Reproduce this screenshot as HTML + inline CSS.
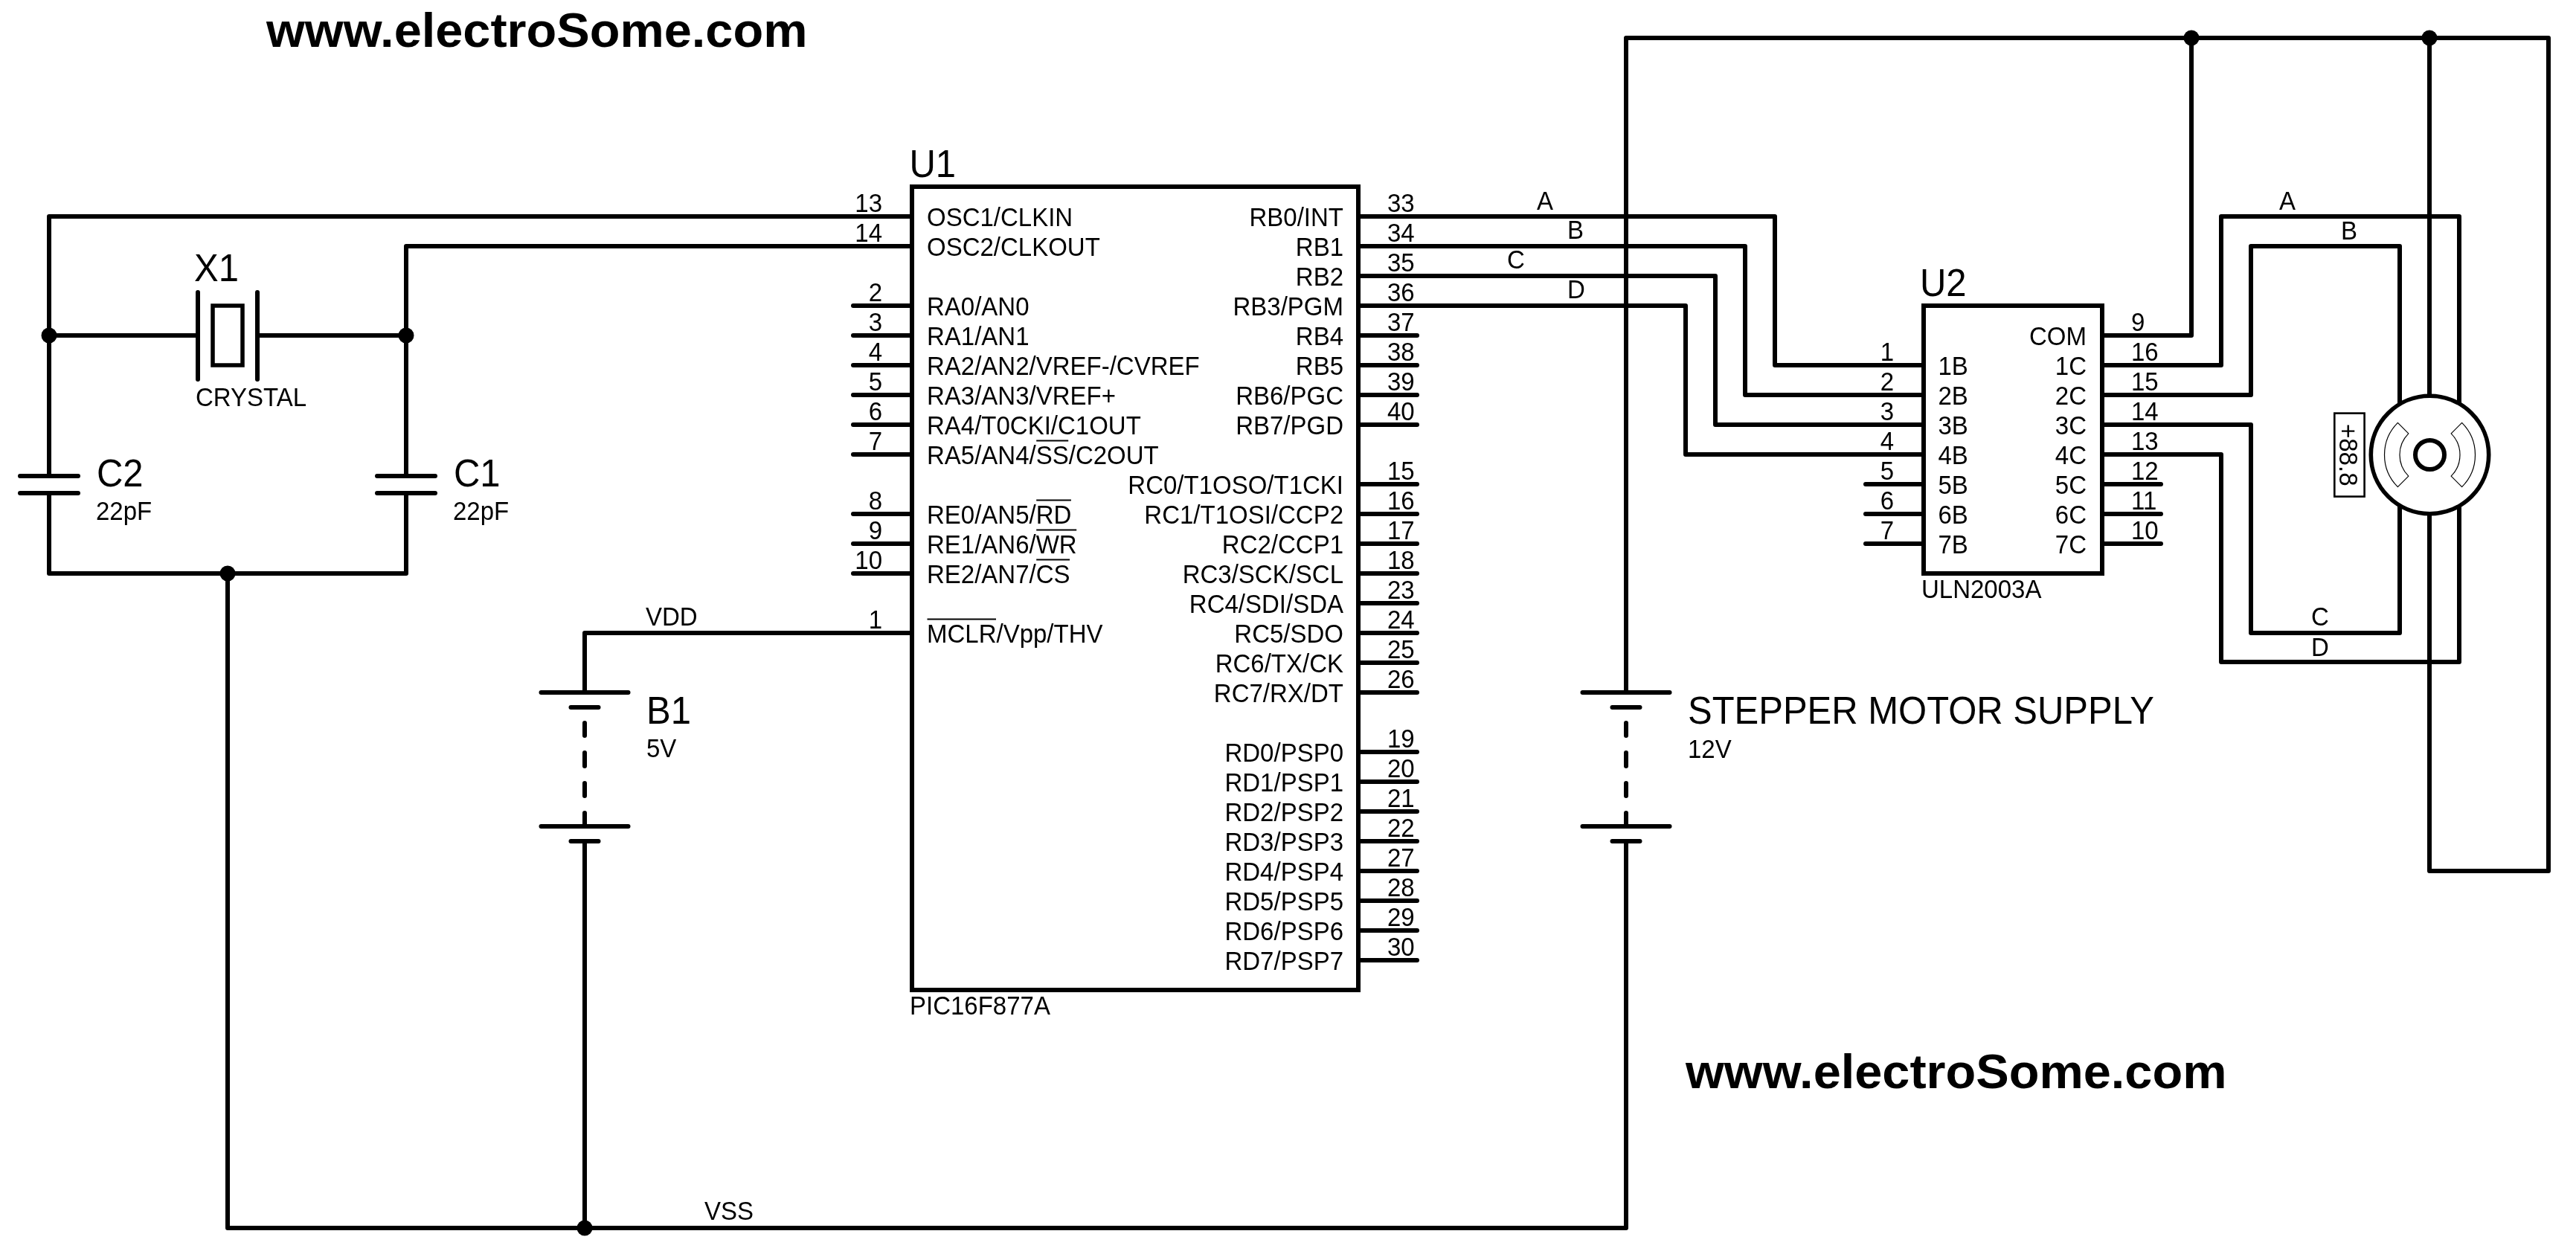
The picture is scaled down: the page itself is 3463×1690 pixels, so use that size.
<!DOCTYPE html>
<html><head><meta charset="utf-8"><style>
html,body{margin:0;padding:0;background:#fff;width:3463px;height:1690px;overflow:hidden}
svg{display:block;will-change:transform}
text{font-family:"Liberation Sans",sans-serif;fill:#000;stroke:none}
</style></head><body>
<svg width="3463" height="1690" viewBox="0 0 3463 1690">
<rect width="3463" height="1690" fill="#fff"/>
<g stroke="#000" stroke-width="6" fill="none" stroke-linejoin="round">
<text transform="translate(358 62.7) scale(1.042 1)" font-size="64" text-anchor="start" font-weight="bold">www.electroSome.com</text>
<text transform="translate(2266 1462.5) scale(1.042 1)" font-size="64" text-anchor="start" font-weight="bold">www.electroSome.com</text>
<rect x="1226" y="251" width="600" height="1080" fill="none" stroke-linejoin="miter"/>
<text transform="translate(1222.5 238) scale(1 1.05)" font-size="49" text-anchor="start" font-weight="normal">U1</text>
<text transform="translate(1223 1364) scale(1 1.05)" font-size="33" text-anchor="start" font-weight="normal">PIC16F877A</text>
<path d="M1144 291 L1226 291" stroke-linecap="round"/>
<text transform="translate(1186 285) scale(1 1.05)" font-size="33" text-anchor="end" font-weight="normal">13</text>
<text transform="translate(1246 304) scale(1 1.05)" font-size="33" text-anchor="start" font-weight="normal">OSC1/CLKIN</text>
<path d="M1144 331 L1226 331" stroke-linecap="round"/>
<text transform="translate(1186 325) scale(1 1.05)" font-size="33" text-anchor="end" font-weight="normal">14</text>
<text transform="translate(1246 344) scale(1 1.05)" font-size="33" text-anchor="start" font-weight="normal">OSC2/CLKOUT</text>
<path d="M1147 411 L1226 411" stroke-linecap="round"/>
<text transform="translate(1186 405) scale(1 1.05)" font-size="33" text-anchor="end" font-weight="normal">2</text>
<text transform="translate(1246 424) scale(1 1.05)" font-size="33" text-anchor="start" font-weight="normal">RA0/AN0</text>
<path d="M1147 451 L1226 451" stroke-linecap="round"/>
<text transform="translate(1186 445) scale(1 1.05)" font-size="33" text-anchor="end" font-weight="normal">3</text>
<text transform="translate(1246 464) scale(1 1.05)" font-size="33" text-anchor="start" font-weight="normal">RA1/AN1</text>
<path d="M1147 491 L1226 491" stroke-linecap="round"/>
<text transform="translate(1186 485) scale(1 1.05)" font-size="33" text-anchor="end" font-weight="normal">4</text>
<text transform="translate(1246 504) scale(1 1.05)" font-size="33" text-anchor="start" font-weight="normal">RA2/AN2/VREF-/CVREF</text>
<path d="M1147 531 L1226 531" stroke-linecap="round"/>
<text transform="translate(1186 525) scale(1 1.05)" font-size="33" text-anchor="end" font-weight="normal">5</text>
<text transform="translate(1246 544) scale(1 1.05)" font-size="33" text-anchor="start" font-weight="normal">RA3/AN3/VREF+</text>
<path d="M1147 571 L1226 571" stroke-linecap="round"/>
<text transform="translate(1186 565) scale(1 1.05)" font-size="33" text-anchor="end" font-weight="normal">6</text>
<text transform="translate(1246 584) scale(1 1.05)" font-size="33" text-anchor="start" font-weight="normal">RA4/T0CKI/C1OUT</text>
<path d="M1147 611 L1226 611" stroke-linecap="round"/>
<text transform="translate(1186 605) scale(1 1.05)" font-size="33" text-anchor="end" font-weight="normal">7</text>
<text transform="translate(1246 624) scale(1 1.05)" font-size="33" text-anchor="start" font-weight="normal">RA5/AN4/SS/C2OUT</text>
<path d="M1147 691 L1226 691" stroke-linecap="round"/>
<text transform="translate(1186 685) scale(1 1.05)" font-size="33" text-anchor="end" font-weight="normal">8</text>
<text transform="translate(1246 704) scale(1 1.05)" font-size="33" text-anchor="start" font-weight="normal">RE0/AN5/RD</text>
<path d="M1147 731 L1226 731" stroke-linecap="round"/>
<text transform="translate(1186 725) scale(1 1.05)" font-size="33" text-anchor="end" font-weight="normal">9</text>
<text transform="translate(1246 744) scale(1 1.05)" font-size="33" text-anchor="start" font-weight="normal">RE1/AN6/WR</text>
<path d="M1147 771 L1226 771" stroke-linecap="round"/>
<text transform="translate(1186 765) scale(1 1.05)" font-size="33" text-anchor="end" font-weight="normal">10</text>
<text transform="translate(1246 784) scale(1 1.05)" font-size="33" text-anchor="start" font-weight="normal">RE2/AN7/CS</text>
<path d="M1144 851 L1226 851" stroke-linecap="round"/>
<text transform="translate(1186 845) scale(1 1.05)" font-size="33" text-anchor="end" font-weight="normal">1</text>
<text transform="translate(1246 864) scale(1 1.05)" font-size="33" text-anchor="start" font-weight="normal">MCLR/Vpp/THV</text>
<path d="M1826 291 L1908 291" stroke-linecap="round"/>
<text transform="translate(1865 285) scale(1 1.05)" font-size="33" text-anchor="start" font-weight="normal">33</text>
<text transform="translate(1806 304) scale(1 1.05)" font-size="33" text-anchor="end" font-weight="normal">RB0/INT</text>
<path d="M1826 331 L1908 331" stroke-linecap="round"/>
<text transform="translate(1865 325) scale(1 1.05)" font-size="33" text-anchor="start" font-weight="normal">34</text>
<text transform="translate(1806 344) scale(1 1.05)" font-size="33" text-anchor="end" font-weight="normal">RB1</text>
<path d="M1826 371 L1908 371" stroke-linecap="round"/>
<text transform="translate(1865 365) scale(1 1.05)" font-size="33" text-anchor="start" font-weight="normal">35</text>
<text transform="translate(1806 384) scale(1 1.05)" font-size="33" text-anchor="end" font-weight="normal">RB2</text>
<path d="M1826 411 L1908 411" stroke-linecap="round"/>
<text transform="translate(1865 405) scale(1 1.05)" font-size="33" text-anchor="start" font-weight="normal">36</text>
<text transform="translate(1806 424) scale(1 1.05)" font-size="33" text-anchor="end" font-weight="normal">RB3/PGM</text>
<path d="M1826 451 L1905 451" stroke-linecap="round"/>
<text transform="translate(1865 445) scale(1 1.05)" font-size="33" text-anchor="start" font-weight="normal">37</text>
<text transform="translate(1806 464) scale(1 1.05)" font-size="33" text-anchor="end" font-weight="normal">RB4</text>
<path d="M1826 491 L1905 491" stroke-linecap="round"/>
<text transform="translate(1865 485) scale(1 1.05)" font-size="33" text-anchor="start" font-weight="normal">38</text>
<text transform="translate(1806 504) scale(1 1.05)" font-size="33" text-anchor="end" font-weight="normal">RB5</text>
<path d="M1826 531 L1905 531" stroke-linecap="round"/>
<text transform="translate(1865 525) scale(1 1.05)" font-size="33" text-anchor="start" font-weight="normal">39</text>
<text transform="translate(1806 544) scale(1 1.05)" font-size="33" text-anchor="end" font-weight="normal">RB6/PGC</text>
<path d="M1826 571 L1905 571" stroke-linecap="round"/>
<text transform="translate(1865 565) scale(1 1.05)" font-size="33" text-anchor="start" font-weight="normal">40</text>
<text transform="translate(1806 584) scale(1 1.05)" font-size="33" text-anchor="end" font-weight="normal">RB7/PGD</text>
<path d="M1826 651 L1905 651" stroke-linecap="round"/>
<text transform="translate(1865 645) scale(1 1.05)" font-size="33" text-anchor="start" font-weight="normal">15</text>
<text transform="translate(1806 664) scale(1 1.05)" font-size="33" text-anchor="end" font-weight="normal">RC0/T1OSO/T1CKI</text>
<path d="M1826 691 L1905 691" stroke-linecap="round"/>
<text transform="translate(1865 685) scale(1 1.05)" font-size="33" text-anchor="start" font-weight="normal">16</text>
<text transform="translate(1806 704) scale(1 1.05)" font-size="33" text-anchor="end" font-weight="normal">RC1/T1OSI/CCP2</text>
<path d="M1826 731 L1905 731" stroke-linecap="round"/>
<text transform="translate(1865 725) scale(1 1.05)" font-size="33" text-anchor="start" font-weight="normal">17</text>
<text transform="translate(1806 744) scale(1 1.05)" font-size="33" text-anchor="end" font-weight="normal">RC2/CCP1</text>
<path d="M1826 771 L1905 771" stroke-linecap="round"/>
<text transform="translate(1865 765) scale(1 1.05)" font-size="33" text-anchor="start" font-weight="normal">18</text>
<text transform="translate(1806 784) scale(1 1.05)" font-size="33" text-anchor="end" font-weight="normal">RC3/SCK/SCL</text>
<path d="M1826 811 L1905 811" stroke-linecap="round"/>
<text transform="translate(1865 805) scale(1 1.05)" font-size="33" text-anchor="start" font-weight="normal">23</text>
<text transform="translate(1806 824) scale(1 1.05)" font-size="33" text-anchor="end" font-weight="normal">RC4/SDI/SDA</text>
<path d="M1826 851 L1905 851" stroke-linecap="round"/>
<text transform="translate(1865 845) scale(1 1.05)" font-size="33" text-anchor="start" font-weight="normal">24</text>
<text transform="translate(1806 864) scale(1 1.05)" font-size="33" text-anchor="end" font-weight="normal">RC5/SDO</text>
<path d="M1826 891 L1905 891" stroke-linecap="round"/>
<text transform="translate(1865 885) scale(1 1.05)" font-size="33" text-anchor="start" font-weight="normal">25</text>
<text transform="translate(1806 904) scale(1 1.05)" font-size="33" text-anchor="end" font-weight="normal">RC6/TX/CK</text>
<path d="M1826 931 L1905 931" stroke-linecap="round"/>
<text transform="translate(1865 925) scale(1 1.05)" font-size="33" text-anchor="start" font-weight="normal">26</text>
<text transform="translate(1806 944) scale(1 1.05)" font-size="33" text-anchor="end" font-weight="normal">RC7/RX/DT</text>
<path d="M1826 1011 L1905 1011" stroke-linecap="round"/>
<text transform="translate(1865 1005) scale(1 1.05)" font-size="33" text-anchor="start" font-weight="normal">19</text>
<text transform="translate(1806 1024) scale(1 1.05)" font-size="33" text-anchor="end" font-weight="normal">RD0/PSP0</text>
<path d="M1826 1051 L1905 1051" stroke-linecap="round"/>
<text transform="translate(1865 1045) scale(1 1.05)" font-size="33" text-anchor="start" font-weight="normal">20</text>
<text transform="translate(1806 1064) scale(1 1.05)" font-size="33" text-anchor="end" font-weight="normal">RD1/PSP1</text>
<path d="M1826 1091 L1905 1091" stroke-linecap="round"/>
<text transform="translate(1865 1085) scale(1 1.05)" font-size="33" text-anchor="start" font-weight="normal">21</text>
<text transform="translate(1806 1104) scale(1 1.05)" font-size="33" text-anchor="end" font-weight="normal">RD2/PSP2</text>
<path d="M1826 1131 L1905 1131" stroke-linecap="round"/>
<text transform="translate(1865 1125) scale(1 1.05)" font-size="33" text-anchor="start" font-weight="normal">22</text>
<text transform="translate(1806 1144) scale(1 1.05)" font-size="33" text-anchor="end" font-weight="normal">RD3/PSP3</text>
<path d="M1826 1171 L1905 1171" stroke-linecap="round"/>
<text transform="translate(1865 1165) scale(1 1.05)" font-size="33" text-anchor="start" font-weight="normal">27</text>
<text transform="translate(1806 1184) scale(1 1.05)" font-size="33" text-anchor="end" font-weight="normal">RD4/PSP4</text>
<path d="M1826 1211 L1905 1211" stroke-linecap="round"/>
<text transform="translate(1865 1205) scale(1 1.05)" font-size="33" text-anchor="start" font-weight="normal">28</text>
<text transform="translate(1806 1224) scale(1 1.05)" font-size="33" text-anchor="end" font-weight="normal">RD5/PSP5</text>
<path d="M1826 1251 L1905 1251" stroke-linecap="round"/>
<text transform="translate(1865 1245) scale(1 1.05)" font-size="33" text-anchor="start" font-weight="normal">29</text>
<text transform="translate(1806 1264) scale(1 1.05)" font-size="33" text-anchor="end" font-weight="normal">RD6/PSP6</text>
<path d="M1826 1291 L1905 1291" stroke-linecap="round"/>
<text transform="translate(1865 1285) scale(1 1.05)" font-size="33" text-anchor="start" font-weight="normal">30</text>
<text transform="translate(1806 1304) scale(1 1.05)" font-size="33" text-anchor="end" font-weight="normal">RD7/PSP7</text>
<rect x="2586" y="411" width="240" height="360" fill="none" stroke-linejoin="miter"/>
<text transform="translate(2581 397.7) scale(1 1.05)" font-size="49" text-anchor="start" font-weight="normal">U2</text>
<text transform="translate(2583 804.3) scale(1 1.05)" font-size="33" text-anchor="start" font-weight="normal">ULN2003A</text>
<path d="M2505 491 L2586 491" stroke-linecap="round"/>
<text transform="translate(2546 485) scale(1 1.05)" font-size="33" text-anchor="end" font-weight="normal">1</text>
<text transform="translate(2605.5 504) scale(1 1.05)" font-size="33" text-anchor="start" font-weight="normal">1B</text>
<path d="M2505 531 L2586 531" stroke-linecap="round"/>
<text transform="translate(2546 525) scale(1 1.05)" font-size="33" text-anchor="end" font-weight="normal">2</text>
<text transform="translate(2605.5 544) scale(1 1.05)" font-size="33" text-anchor="start" font-weight="normal">2B</text>
<path d="M2505 571 L2586 571" stroke-linecap="round"/>
<text transform="translate(2546 565) scale(1 1.05)" font-size="33" text-anchor="end" font-weight="normal">3</text>
<text transform="translate(2605.5 584) scale(1 1.05)" font-size="33" text-anchor="start" font-weight="normal">3B</text>
<path d="M2505 611 L2586 611" stroke-linecap="round"/>
<text transform="translate(2546 605) scale(1 1.05)" font-size="33" text-anchor="end" font-weight="normal">4</text>
<text transform="translate(2605.5 624) scale(1 1.05)" font-size="33" text-anchor="start" font-weight="normal">4B</text>
<path d="M2508 651 L2586 651" stroke-linecap="round"/>
<text transform="translate(2546 645) scale(1 1.05)" font-size="33" text-anchor="end" font-weight="normal">5</text>
<text transform="translate(2605.5 664) scale(1 1.05)" font-size="33" text-anchor="start" font-weight="normal">5B</text>
<path d="M2508 691 L2586 691" stroke-linecap="round"/>
<text transform="translate(2546 685) scale(1 1.05)" font-size="33" text-anchor="end" font-weight="normal">6</text>
<text transform="translate(2605.5 704) scale(1 1.05)" font-size="33" text-anchor="start" font-weight="normal">6B</text>
<path d="M2508 731 L2586 731" stroke-linecap="round"/>
<text transform="translate(2546 725) scale(1 1.05)" font-size="33" text-anchor="end" font-weight="normal">7</text>
<text transform="translate(2605.5 744) scale(1 1.05)" font-size="33" text-anchor="start" font-weight="normal">7B</text>
<path d="M2826 451 L2908 451" stroke-linecap="round"/>
<text transform="translate(2865 445) scale(1 1.05)" font-size="33" text-anchor="start" font-weight="normal">9</text>
<text transform="translate(2805 464) scale(1 1.05)" font-size="33" text-anchor="end" font-weight="normal">COM</text>
<path d="M2826 491 L2908 491" stroke-linecap="round"/>
<text transform="translate(2865 485) scale(1 1.05)" font-size="33" text-anchor="start" font-weight="normal">16</text>
<text transform="translate(2805 504) scale(1 1.05)" font-size="33" text-anchor="end" font-weight="normal">1C</text>
<path d="M2826 531 L2908 531" stroke-linecap="round"/>
<text transform="translate(2865 525) scale(1 1.05)" font-size="33" text-anchor="start" font-weight="normal">15</text>
<text transform="translate(2805 544) scale(1 1.05)" font-size="33" text-anchor="end" font-weight="normal">2C</text>
<path d="M2826 571 L2908 571" stroke-linecap="round"/>
<text transform="translate(2865 565) scale(1 1.05)" font-size="33" text-anchor="start" font-weight="normal">14</text>
<text transform="translate(2805 584) scale(1 1.05)" font-size="33" text-anchor="end" font-weight="normal">3C</text>
<path d="M2826 611 L2908 611" stroke-linecap="round"/>
<text transform="translate(2865 605) scale(1 1.05)" font-size="33" text-anchor="start" font-weight="normal">13</text>
<text transform="translate(2805 624) scale(1 1.05)" font-size="33" text-anchor="end" font-weight="normal">4C</text>
<path d="M2826 651 L2905 651" stroke-linecap="round"/>
<text transform="translate(2865 645) scale(1 1.05)" font-size="33" text-anchor="start" font-weight="normal">12</text>
<text transform="translate(2805 664) scale(1 1.05)" font-size="33" text-anchor="end" font-weight="normal">5C</text>
<path d="M2826 691 L2905 691" stroke-linecap="round"/>
<text transform="translate(2865 685) scale(1 1.05)" font-size="33" text-anchor="start" font-weight="normal">11</text>
<text transform="translate(2805 704) scale(1 1.05)" font-size="33" text-anchor="end" font-weight="normal">6C</text>
<path d="M2826 731 L2905 731" stroke-linecap="round"/>
<text transform="translate(2865 725) scale(1 1.05)" font-size="33" text-anchor="start" font-weight="normal">10</text>
<text transform="translate(2805 744) scale(1 1.05)" font-size="33" text-anchor="end" font-weight="normal">7C</text>
<path d="M1144 291 L66 291 L66 640" stroke-linecap="round"/>
<path d="M66 663 L66 771 L546 771 L546 663" stroke-linecap="round"/>
<path d="M546 640 L546 331 L1144 331" stroke-linecap="round"/>
<path d="M66 451 L266 451" stroke-linecap="round"/>
<path d="M346 451 L546 451" stroke-linecap="round"/>
<path d="M266 393 L266 510" stroke-linecap="round"/>
<path d="M346 393 L346 510" stroke-linecap="round"/>
<rect x="286" y="411" width="40" height="80" fill="none" stroke-width="5.5" stroke-linejoin="miter"/>
<text transform="translate(261 377.7) scale(1 1.05)" font-size="49" text-anchor="start" font-weight="normal">X1</text>
<text transform="translate(263 546) scale(1 1.05)" font-size="33" text-anchor="start" font-weight="normal">CRYSTAL</text>
<path d="M27 640 L105 640" stroke-linecap="round"/>
<path d="M27 663 L105 663" stroke-linecap="round"/>
<path d="M507 640 L585 640" stroke-linecap="round"/>
<path d="M507 663 L585 663" stroke-linecap="round"/>
<text transform="translate(130 653.8) scale(1 1.05)" font-size="49" text-anchor="start" font-weight="normal">C2</text>
<text transform="translate(129 699) scale(1 1.05)" font-size="33" text-anchor="start" font-weight="normal">22pF</text>
<text transform="translate(610 653.8) scale(1 1.05)" font-size="49" text-anchor="start" font-weight="normal">C1</text>
<text transform="translate(609 699) scale(1 1.05)" font-size="33" text-anchor="start" font-weight="normal">22pF</text>
<circle cx="66" cy="451" r="10.5" fill="#000" stroke="none"/>
<circle cx="546" cy="451" r="10.5" fill="#000" stroke="none"/>
<circle cx="306" cy="771" r="10.5" fill="#000" stroke="none"/>
<path d="M727.5 931 L844.5 931" stroke-linecap="round"/>
<path d="M767.5 951 L804.5 951" stroke-linecap="round"/>
<path d="M786 972 L786 989" stroke-linecap="round"/>
<path d="M786 1012 L786 1030" stroke-linecap="round"/>
<path d="M786 1053 L786 1070" stroke-linecap="round"/>
<path d="M786 1093 L786 1111" stroke-linecap="round"/>
<path d="M727.5 1111 L844.5 1111" stroke-linecap="round"/>
<path d="M767.5 1131 L804.5 1131" stroke-linecap="round"/>
<path d="M2127.5 931 L2244.5 931" stroke-linecap="round"/>
<path d="M2167.5 951 L2204.5 951" stroke-linecap="round"/>
<path d="M2186 972 L2186 989" stroke-linecap="round"/>
<path d="M2186 1012 L2186 1030" stroke-linecap="round"/>
<path d="M2186 1053 L2186 1070" stroke-linecap="round"/>
<path d="M2186 1093 L2186 1111" stroke-linecap="round"/>
<path d="M2127.5 1111 L2244.5 1111" stroke-linecap="round"/>
<path d="M2167.5 1131 L2204.5 1131" stroke-linecap="round"/>
<path d="M306 771 L306 1651 L2186 1651 L2186 1131" stroke-linecap="round"/>
<path d="M786 1131 L786 1651" stroke-linecap="round"/>
<circle cx="786" cy="1651" r="10.5" fill="#000" stroke="none"/>
<path d="M1144 851 L786 851 L786 931" stroke-linecap="round"/>
<text transform="translate(868 841) scale(1 1.05)" font-size="33" text-anchor="start" font-weight="normal">VDD</text>
<text transform="translate(947 1640) scale(1 1.05)" font-size="33" text-anchor="start" font-weight="normal">VSS</text>
<text transform="translate(869 972.5) scale(1 1.05)" font-size="49" text-anchor="start" font-weight="normal">B1</text>
<text transform="translate(869 1018) scale(1 1.05)" font-size="33" text-anchor="start" font-weight="normal">5V</text>
<text transform="translate(2269 973) scale(1 1.05)" font-size="49" text-anchor="start" font-weight="normal">STEPPER MOTOR SUPPLY</text>
<text transform="translate(2269 1019) scale(1 1.05)" font-size="33" text-anchor="start" font-weight="normal">12V</text>
<path d="M2186 931 L2186 51 L3426 51 L3426 1171 L3266 1171 L3266 51" stroke-linecap="round"/>
<path d="M2946 51 L2946 451 L2908 451" stroke-linecap="round"/>
<circle cx="2946" cy="51" r="10.5" fill="#000" stroke="none"/>
<circle cx="3266" cy="51" r="10.5" fill="#000" stroke="none"/>
<path d="M1908 291 L2386 291 L2386 491 L2505 491" stroke-linecap="round"/>
<path d="M1908 331 L2346 331 L2346 531 L2505 531" stroke-linecap="round"/>
<path d="M1908 371 L2306 371 L2306 571 L2505 571" stroke-linecap="round"/>
<path d="M1908 411 L2266 411 L2266 611 L2505 611" stroke-linecap="round"/>
<text transform="translate(2066 281.8) scale(1 1.05)" font-size="33" text-anchor="start" font-weight="normal">A</text>
<text transform="translate(2107 321) scale(1 1.05)" font-size="33" text-anchor="start" font-weight="normal">B</text>
<text transform="translate(2026 361) scale(1 1.05)" font-size="33" text-anchor="start" font-weight="normal">C</text>
<text transform="translate(2107 401) scale(1 1.05)" font-size="33" text-anchor="start" font-weight="normal">D</text>
<path d="M2908 491 L2986 491 L2986 291 L3306 291 L3306 890 L2986 890 L2986 611 L2908 611" stroke-linecap="round"/>
<path d="M2908 531 L3026 531 L3026 331 L3226 331 L3226 851 L3026 851 L3026 571 L2908 571" stroke-linecap="round"/>
<text transform="translate(3064 282) scale(1 1.05)" font-size="33" text-anchor="start" font-weight="normal">A</text>
<text transform="translate(3147 322) scale(1 1.05)" font-size="33" text-anchor="start" font-weight="normal">B</text>
<text transform="translate(3107 840.6) scale(1 1.05)" font-size="33" text-anchor="start" font-weight="normal">C</text>
<text transform="translate(3107 881.7) scale(1 1.05)" font-size="33" text-anchor="start" font-weight="normal">D</text>
<circle cx="3266.5" cy="611.5" r="79.2" fill="#fff" stroke-width="5.6"/>
<circle cx="3266.5" cy="611.5" r="19.5" fill="none" stroke-width="6"/>
<path d="M3223.37 654.63 A61 61 0 0 1 3223.37 568.37 L3237.86 582.86 A40.5 40.5 0 0 0 3237.86 640.14 Z" fill="none" stroke-width="1.2"/>
<path d="M3309.63 568.37 A61 61 0 0 1 3309.63 654.63 L3295.14 640.14 A40.5 40.5 0 0 0 3295.14 582.86 Z" fill="none" stroke-width="1.2"/>
<rect x="3138.3" y="555.6" width="40.3" height="112" fill="none" stroke-width="2.6" stroke-linejoin="miter"/>
<text transform="translate(3145 570) rotate(90) scale(1 1.05)" font-size="33">+88.8</text>
<path d="M1393.2 592.5 L1436.2 592.5" stroke-width="2" stroke-linecap="butt"/>
<path d="M1393.2 672.5 L1439.9 672.5" stroke-width="2" stroke-linecap="butt"/>
<path d="M1393.2 712.5 L1447.2 712.5" stroke-width="2" stroke-linecap="butt"/>
<path d="M1393.2 752.5 L1438.1 752.5" stroke-width="2" stroke-linecap="butt"/>
<path d="M1246.5 832.5 L1339.0 832.5" stroke-width="2" stroke-linecap="butt"/>
</g>
</svg>
</body></html>
